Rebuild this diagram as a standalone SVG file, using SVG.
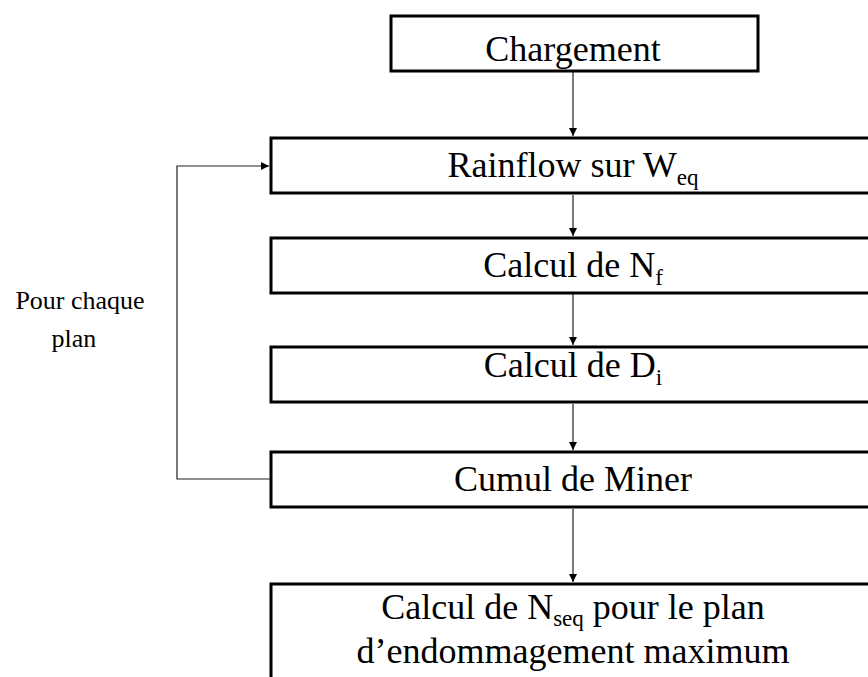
<svg xmlns="http://www.w3.org/2000/svg" width="868" height="677" viewBox="0 0 868 677">
<style>
.box{fill:#fff;stroke:#000;stroke-width:3}
.t{font-family:"Liberation Serif","Times New Roman",serif;font-size:36px;fill:#000;text-anchor:middle}
.s{font-size:23px}
.lbl{font-family:"Liberation Serif","Times New Roman",serif;font-size:26px;fill:#000;text-anchor:middle}
.c{fill:none;stroke:#222;stroke-width:1.2}
</style>
<defs>
<marker id="ah" viewBox="0 0 10 10" refX="10" refY="5" markerWidth="8" markerHeight="8" markerUnits="userSpaceOnUse" orient="auto">
<path d="M0,0 L10,5 L0,10 z" fill="#000"/>
</marker>
</defs>
<rect width="868" height="677" fill="#fff"/>
<g id="connectors">
<line class="c" x1="573" y1="72" x2="573" y2="136" marker-end="url(#ah)"/>
<line class="c" x1="573" y1="195" x2="573" y2="236" marker-end="url(#ah)"/>
<line class="c" x1="573" y1="294" x2="573" y2="345" marker-end="url(#ah)"/>
<line class="c" x1="573" y1="404" x2="573" y2="450" marker-end="url(#ah)"/>
<line class="c" x1="573" y1="509" x2="573" y2="582" marker-end="url(#ah)"/>
<polyline class="c" points="270,479 177,479 177,166 269,166" marker-end="url(#ah)"/>
</g>
<g id="chargement">
<rect class="box" x="391" y="16" width="367" height="55"/>
<text class="t" x="573" y="61">Chargement</text>
</g>
<g id="rainflow">
<rect class="box" x="271" y="138" width="610" height="55"/>
<text class="t" x="573" y="177">Rainflow sur W<tspan class="s" dy="8">eq</tspan></text>
</g>
<g id="calcul-nf">
<rect class="box" x="271" y="238" width="610" height="55"/>
<text class="t" x="573" y="277">Calcul de N<tspan class="s" dy="8">f</tspan></text>
</g>
<g id="calcul-di">
<rect class="box" x="271" y="347" width="610" height="55"/>
<text class="t" x="573" y="377">Calcul de D<tspan class="s" dy="8">i</tspan></text>
</g>
<g id="cumul">
<rect class="box" x="271" y="452" width="610" height="55"/>
<text class="t" x="573" y="491">Cumul de Miner</text>
</g>
<g id="calcul-nseq">
<rect class="box" x="271" y="584" width="610" height="200"/>
<text class="t" x="573" y="619">Calcul de N<tspan class="s" dy="7">seq</tspan><tspan dy="-7"> pour le plan</tspan></text>
<text class="t" x="573" y="663">d’endommagement maximum</text>
</g>
<g id="label">
<text class="lbl" x="80" y="309">Pour chaque</text>
<text class="lbl" x="74" y="347">plan</text>
</g>
</svg>
